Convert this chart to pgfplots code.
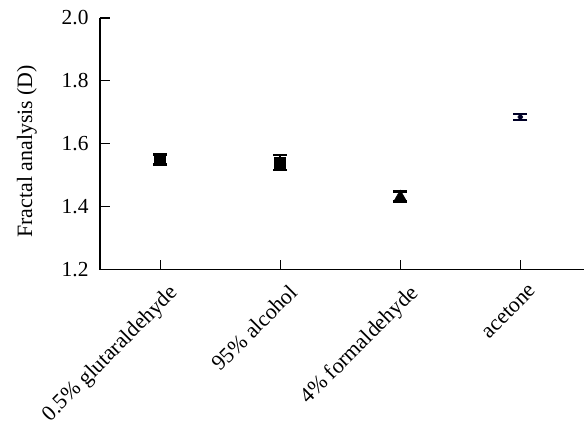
\documentclass[border=0pt]{standalone}
\usepackage{pgfplots}
\pgfplotsset{compat=1.18}
\usepackage{fontspec}
\setmainfont{Liberation Serif}
\begin{document}
\begin{tikzpicture}
\begin{axis}[
  scale only axis,
  width=484bp, height=251.5bp,
  xmin=-0.5, xmax=3.53,
  ymin=1.2, ymax=2.0,
  axis lines=left,
  axis line style={-, line width=1.1pt},
  xtick={0,1,2,3},
  xticklabels={0.5\% glutaraldehyde, 95\% alcohol, 4\% formaldehyde, acetone},
  ytick={1.2,1.4,1.6,1.8,2.0},
  /pgf/number format/fixed,
  /pgf/number format/fixed zerofill,
  /pgf/number format/precision=1,
  /pgf/number format/assume math mode=true,
  yticklabel style={font=\fontsize{21.5}{23}\selectfont, xshift=-8bp},
  xticklabel style={rotate=45, anchor=north east, font=\fontsize{22}{24}\selectfont, inner sep=1pt, yshift=-14bp, xshift=-3bp},
  tick align=inside,
  major tick length=10bp,
  tick style={line width=1.1pt, black},
  ylabel={Fractal analysis (D)},
  ylabel style={at={(axis description cs:-0.151,0.47)}, anchor=center, rotate=0, font=\fontsize{22}{24}\selectfont},
  clip=false,
]
\addplot[only marks, mark=square*, mark size=5.5bp, black,
  error bars/.cd, y dir=both, y explicit,
  error mark=|, error bar style={line width=1.5pt, black},
  error mark options={line width=2.5pt, mark size=7bp, black}]
  coordinates {(0,1.550) +- (0,0.016)};
\addplot[only marks, mark=square*, mark size=5.5bp, black,
  error bars/.cd, y dir=both, y explicit,
  error mark=|, error bar style={line width=1.5pt, black},
  error mark options={line width=2.5pt, mark size=7bp, black}]
  coordinates {(1,1.540) +- (0,0.024)};
\addplot[only marks, mark=triangle*, mark size=6.5bp, black,
  error bars/.cd, y dir=both, y explicit,
  error mark=|, error bar style={line width=1.5pt, black},
  error mark options={line width=2.5pt, mark size=7bp, black}]
  coordinates {(2,1.432) +- (0,0.016)};
\addplot[only marks, mark=diamond*, mark size=3.5bp, black!85!blue,
  error bars/.cd, y dir=both, y explicit,
  error mark=|, error bar style={line width=1.5pt, black!85!blue},
  error mark options={line width=2.5pt, mark size=7bp, black!85!blue}]
  coordinates {(3,1.685) +- (0,0.009)};
\end{axis}
\pgfresetboundingbox
\path ([shift={(-100bp,-155.5bp)}]current axis.south west) rectangle ([shift={(0bp,18bp)}]current axis.north east);
\end{tikzpicture}
\end{document}
